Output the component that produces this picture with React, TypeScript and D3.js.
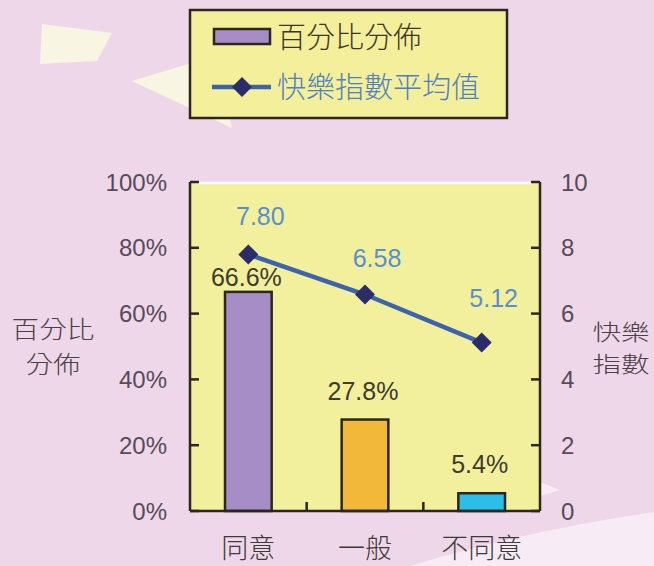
import React from "react";
import * as d3 from "d3";

const categories = ["同意", "一般", "不同意"];
const percentValues = [66.6, 27.8, 5.4];
const happinessValues = [7.8, 6.58, 5.12];
const barColors = ["#a78dc6", "#f2b83a", "#29bfe8"];
const leftTicks = [0, 20, 40, 60, 80, 100];
const rightTicks = [0, 2, 4, 6, 8, 10];
const legendLabels = ["百分比分佈", "快樂指數平均值"];
const leftAxisTitle = ["百分比", "分佈"];
const rightAxisTitle = ["快樂", "指數"];

const W = 654;
const H = 566;
const X0 = 190;
const X1 = 540;
const YT = 182;
const YB = 511;
const barLabelGap = [6, 20, 20];
const lineLabelDy = [-29, -28, -36];

const NUM_FONT = "'Liberation Sans', Arial, sans-serif";
const CJK_FONT = "'Noto Sans CJK TC', 'Noto Sans CJK SC', sans-serif";
const CJK_WEIGHT = 300;

export default function App() {
  const x = d3.scaleBand<string>().domain(categories).range([X0, X1]).padding(0);
  const yL = d3.scaleLinear().domain([0, 100]).range([YB, YT]);
  const yR = d3.scaleLinear().domain([0, 10]).range([YB, YT]);
  const bw = x.bandwidth() * 0.4;
  const cx = (c: string) => (x(c) as number) + x.bandwidth() / 2;

  const lineGen = d3
    .line<number>()
    .x((_, i) => cx(categories[i]))
    .y((d) => yR(d));

  const diamond = (px: number, py: number, r: number) =>
    `M${px},${py - r}L${px + r},${py}L${px},${py + r}L${px - r},${py}Z`;

  const stretch = (cxp: number, sx: number) =>
    `translate(${cxp},0) scale(${sx},1) translate(${-cxp},0)`;

  const axisColor = "#2b261f";
  const tickLabelColor = "#564b58";

  return (
    <svg
      width={W}
      height={H}
      style={{ position: "fixed", left: 0, top: 0 }}
      xmlns="http://www.w3.org/2000/svg"
    >
      <rect x={0} y={0} width={W} height={H} fill="#efd7ea" />
      {/* decorative shapes */}
      <path d="M42,24L112,33L97,61L40,64Z" fill="#f8f6e2" />
      <path d="M132,81L215,56L232,128Z" fill="#f8f6e2" />
      <path d="M410,566Q520,532 654,512L654,566Z" fill="#f7ecf5" />
      <path d="M540,482L560,490L540,496Z" fill="#f7ecf5" />

      {/* legend */}
      <rect x={190} y={10} width={317} height={108} fill="#f3ef9b" stroke="#2b261f" strokeWidth={2.5} />
      <rect x={214} y={29} width={56} height={15} fill={barColors[0]} stroke="#2b261f" strokeWidth={2.5} />
      <text x={277} y={48} fontFamily={CJK_FONT} fontWeight={CJK_WEIGHT} fontSize={29} fill="#3d3628">
        {legendLabels[0]}
      </text>
      <line x1={212} x2={271} y1={87} y2={87} stroke="#3c63ac" strokeWidth={4.5} />
      <path d={diamond(242, 87, 10)} fill="#2a2d68" />
      <text x={277} y={98} fontFamily={CJK_FONT} fontWeight={CJK_WEIGHT} fontSize={29} fill="#4f80c2">
        {legendLabels[1]}
      </text>

      {/* plot area */}
      <rect x={X0} y={YT} width={X1 - X0} height={YB - YT} fill="#f2ef9d" />
      <line x1={X0 + 8} x2={X1 - 8} y1={YT + 1} y2={YT + 1} stroke="#ffffff" strokeWidth={2.5} />

      {/* bars */}
      {categories.map((c, i) => (
        <rect
          key={c}
          x={cx(c) - bw / 2}
          y={yL(percentValues[i])}
          width={bw}
          height={YB - yL(percentValues[i])}
          fill={barColors[i]}
          stroke="#2b261f"
          strokeWidth={2.5}
        />
      ))}
      {categories.map((c, i) => (
        <text
          key={c + "l"}
          x={cx(c) - 2}
          y={yL(percentValues[i]) - barLabelGap[i]}
          textAnchor="middle"
          fontFamily={NUM_FONT}
          fontSize={25}
          fill="#3e3b2c"
        >
          {percentValues[i].toFixed(1) + "%"}
        </text>
      ))}

      {/* axes */}
      <line x1={X0} x2={X0} y1={YT} y2={YB} stroke={axisColor} strokeWidth={2.5} />
      <line x1={X1} x2={X1} y1={YT} y2={YB} stroke={axisColor} strokeWidth={2.5} />
      <line x1={X0} x2={X1} y1={YB} y2={YB} stroke={axisColor} strokeWidth={2.5} />
      {leftTicks.map((t) => (
        <g key={"lt" + t}>
          <line x1={X0} x2={X0 + 9} y1={yL(t)} y2={yL(t)} stroke={axisColor} strokeWidth={2.5} />
          <text
            x={167}
            y={yL(t) + 8.5}
            textAnchor="end"
            fontFamily={NUM_FONT}
            fontSize={24}
            fill={tickLabelColor}
          >
            {t + "%"}
          </text>
        </g>
      ))}
      {rightTicks.map((t) => (
        <g key={"rt" + t}>
          <line x1={X1 - 9} x2={X1} y1={yR(t)} y2={yR(t)} stroke={axisColor} strokeWidth={2.5} />
          <text
            x={561}
            y={yR(t) + 8.5}
            textAnchor="start"
            fontFamily={NUM_FONT}
            fontSize={24}
            fill={tickLabelColor}
          >
            {t}
          </text>
        </g>
      ))}
      {categories.slice(1).map((c) => (
        <line
          key={"xt" + c}
          x1={x(c) as number}
          x2={x(c) as number}
          y1={YB}
          y2={YB - 9}
          stroke={axisColor}
          strokeWidth={2.5}
        />
      ))}
      {categories.map((c) => (
        <text
          key={"xl" + c}
          x={cx(c)}
          y={558}
          textAnchor="middle"
          fontFamily={CJK_FONT}
          fontWeight={CJK_WEIGHT}
          fontSize={27}
          fill="#3d3a38"
        >
          {c}
        </text>
      ))}

      {/* line series */}
      <path d={lineGen(happinessValues) || ""} fill="none" stroke="#3c63ac" strokeWidth={4.5} />
      {happinessValues.map((v, i) => (
        <path key={"d" + i} d={diamond(cx(categories[i]), yR(v), 10)} fill="#2a2d68" />
      ))}
      {happinessValues.map((v, i) => (
        <text
          key={"v" + i}
          x={cx(categories[i]) + 12}
          y={yR(v) + lineLabelDy[i]}
          textAnchor="middle"
          fontFamily={NUM_FONT}
          fontSize={25}
          fill="#5b8fcc"
        >
          {v.toFixed(2)}
        </text>
      ))}

      {/* axis titles */}
      {leftAxisTitle.map((s, i) => (
        <text
          key={"at" + i}
          x={53}
          y={338 + i * 35}
          transform={stretch(53, 1.15)}
          textAnchor="middle"
          fontFamily={CJK_FONT}
          fontWeight={CJK_WEIGHT}
          fontSize={24}
          fill="#4a4146"
        >
          {s}
        </text>
      ))}
      {rightAxisTitle.map((s, i) => (
        <text
          key={"rat" + i}
          x={621}
          y={340 + i * 32}
          transform={stretch(621, 1.3)}
          textAnchor="middle"
          fontFamily={CJK_FONT}
          fontWeight={CJK_WEIGHT}
          fontSize={22}
          fill="#4a4146"
        >
          {s}
        </text>
      ))}
    </svg>
  );
}
